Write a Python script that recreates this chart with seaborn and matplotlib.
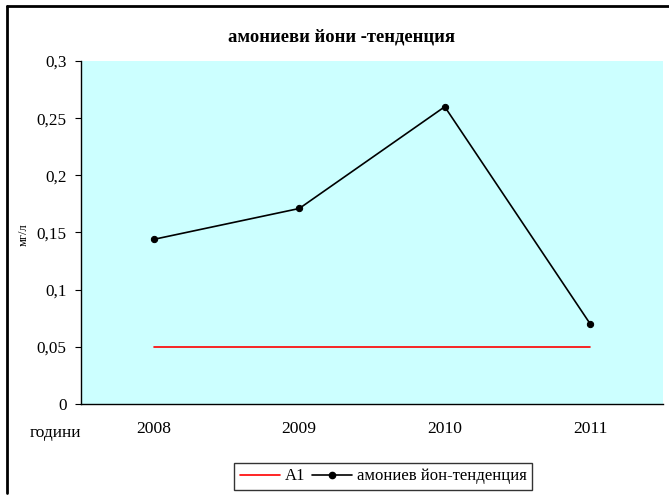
import matplotlib
matplotlib.use("Agg")
import matplotlib.pyplot as plt
from matplotlib.lines import Line2D
import seaborn as sns
import pandas as pd

years = ["2008", "2009", "2010", "2011"]
ammonium = [0.144, 0.171, 0.26, 0.07]
a1 = [0.05, 0.05, 0.05, 0.05]
yticks = [0, 0.05, 0.1, 0.15, 0.2, 0.25, 0.3]
ytick_labels = ["0", "0,05", "0,1", "0,15", "0,2", "0,25", "0,3"]
title = "амониеви йони -тенденция"
ylabel = "мг/л"
xlabel = "години"
name_a1 = "A1"
name_amm = "амониев йон-тенденция"

sns.set_theme(style="white")
plt.rcParams["font.family"] = ["Liberation Serif", "DejaVu Serif"]
plt.rcParams["text.color"] = "black"
plt.rcParams["xtick.color"] = "black"
plt.rcParams["ytick.color"] = "black"
plt.rcParams["xtick.labelcolor"] = "black"
plt.rcParams["ytick.labelcolor"] = "black"

df = pd.DataFrame({
    "year": years * 2,
    "value": a1 + ammonium,
    "series": [name_a1] * 4 + [name_amm] * 4,
})

fig = plt.figure(figsize=(6.69, 4.95), dpi=100)
ax = fig.add_axes([81 / 669, 1 - 404 / 495, (663 - 81) / 669, (404 - 61) / 495])
ax.set_facecolor("#CCFFFF")

pos = {y: i for i, y in enumerate(years)}
df["x"] = df["year"].map(pos)

sns.lineplot(data=df[df.series == name_a1], x="x", y="value", color="#FF0000",
             linewidth=1.2, ax=ax, label=name_a1)
sns.lineplot(data=df[df.series == name_amm], x="x", y="value", color="black",
             linewidth=1.2, marker="o", markersize=4.5, markeredgecolor="black",
             ax=ax, label=name_amm)

ax.set_xlim(-0.5, len(years) - 0.5)
ax.set_ylim(0, 0.3)
ax.set_yticks(yticks)
ax.set_yticklabels(ytick_labels, fontsize=12.3)
ax.set_xticks([i - 0.5 for i in range(len(years) + 1)])
ax.set_xticklabels([""] * (len(years) + 1))
ax.set_xticks(list(range(len(years))), minor=True)
ax.set_xticklabels(years, minor=True, fontsize=12.6)
ax.tick_params(axis="x", which="minor", length=0, pad=12)
ax.tick_params(axis="x", which="major", length=4, width=0.8, direction="out", color="black")
ax.tick_params(axis="y", length=4, width=0.8, direction="out", color="black", pad=6.5, left=True)
ax.set_xlabel("")
ax.set_ylabel("")
for s in ["top", "right"]:
    ax.spines[s].set_visible(False)
for s in ["left", "bottom"]:
    ax.spines[s].set_color("black")
    ax.spines[s].set_linewidth(1.0)

fig.text(342 / 669, 1 - 37 / 495, title, ha="center", va="center",
         fontsize=13.4, fontweight="bold", color="black")
fig.text(24 / 669, 1 - 235 / 495, ylabel, rotation=90, ha="center", va="center",
         fontsize=9, color="black")
fig.text(55 / 669, 1 - 433 / 495, xlabel, ha="center", va="center", fontsize=12.5,
         color="black")

ax.legend_.remove()
handles = [Line2D([], [], color="#FF0000", lw=1.2),
           Line2D([], [], color="black", lw=1.2, marker="o", markersize=4.5)]
leg = fig.legend(handles, [name_a1, name_amm], loc="center",
                 bbox_to_anchor=(383 / 669, 1 - 476.5 / 495), ncol=2, fontsize=12,
                 frameon=True, fancybox=False, edgecolor="black", handlelength=2.4,
                 handletextpad=0.3, columnspacing=0.4, borderpad=0.35, borderaxespad=0)
leg.get_frame().set_linewidth(1.0)
for t in leg.get_texts():
    t.set_color("black")

fig.add_artist(Line2D([7 / 669, 7 / 669], [2 / 495, 1 - 6 / 495], color="black", lw=2,
                      transform=fig.transFigure))
fig.add_artist(Line2D([7 / 669, 1], [1 - 6 / 495, 1 - 6 / 495], color="black", lw=2,
                      transform=fig.transFigure))

fig.savefig("out.png", dpi=100, facecolor="white")
